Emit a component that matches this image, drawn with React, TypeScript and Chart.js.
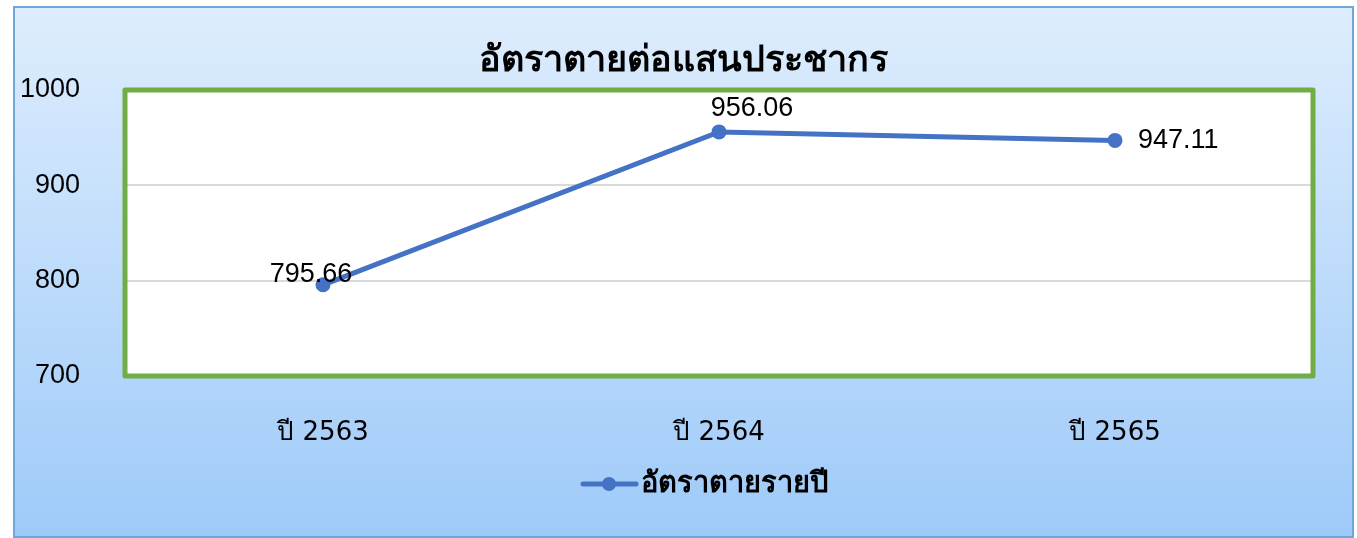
import React, { useEffect, useRef } from "react";
import { Chart, registerables } from "chart.js";

Chart.register(...registerables);

const categories = ["ปี 2563", "ปี 2564", "ปี 2565"];
const rates = [795.66, 956.06, 947.11];
const seriesName = "อัตราตายรายปี";
const chartTitle = "อัตราตายต่อแสนประชากร";
const yMin = 700;
const yMax = 1000;
const yStep = 100;

const W = 1357;
const H = 538;
const FONT = "'DejaVu Sans', 'Noto Sans', sans-serif";
const NUMFONT = "'Liberation Sans', Arial, sans-serif";
const BLUE = "#4472c4";
const GREEN = "#70ad47";

// label offsets (dx, dy) relative to each point, mimicking the original label placement
const labelOffsets = [
  [-12, -10, "center"],
  [33, -23, "center"],
  [23, 0, "left"],
];

const framePlugin = {
  id: "frame",
  beforeDraw(chart: any) {
    const { ctx, chartArea } = chart;
    ctx.save();
    const g = ctx.createLinearGradient(0, 6, 0, 537);
    g.addColorStop(0, "#deedfd");
    g.addColorStop(1, "#9ecaf9");
    ctx.fillStyle = g;
    ctx.fillRect(13, 6, 1340, 531);
    ctx.strokeStyle = "#6fa6dc";
    ctx.lineWidth = 2;
    ctx.strokeRect(14, 7, 1339, 530);
    ctx.fillStyle = "#ffffff";
    ctx.fillRect(chartArea.left, chartArea.top, chartArea.right - chartArea.left, chartArea.bottom - chartArea.top);
    // title
    ctx.fillStyle = "#000000";
    ctx.font = `bold 36px ${FONT}`;
    ctx.textAlign = "center";
    ctx.textBaseline = "middle";
    ctx.fillText(chartTitle, 683, 62);
    // legend
    const ly = 484;
    ctx.strokeStyle = BLUE;
    ctx.lineWidth = 5;
    ctx.lineCap = "round";
    ctx.beginPath();
    ctx.moveTo(583, ly);
    ctx.lineTo(636, ly);
    ctx.stroke();
    ctx.fillStyle = BLUE;
    ctx.beginPath();
    ctx.arc(609, ly, 7, 0, Math.PI * 2);
    ctx.fill();
    ctx.fillStyle = "#000000";
    ctx.font = `bold 29px ${FONT}`;
    ctx.textAlign = "left";
    ctx.fillText(seriesName, 641, ly);
    ctx.restore();
  },
  beforeDatasetsDraw(chart: any) {
    const { ctx, chartArea } = chart;
    ctx.save();
    ctx.strokeStyle = GREEN;
    ctx.lineWidth = 5;
    ctx.lineJoin = "round";
    ctx.strokeRect(chartArea.left, chartArea.top, chartArea.right - chartArea.left, chartArea.bottom - chartArea.top);
    ctx.restore();
  },
  afterDatasetsDraw(chart: any) {
    const { ctx } = chart;
    const meta = chart.getDatasetMeta(0);
    ctx.save();
    ctx.fillStyle = "#000000";
    ctx.font = `27px ${NUMFONT}`;
    ctx.textBaseline = "middle";
    meta.data.forEach((pt: any, i: number) => {
      const [dx, dy, align] = labelOffsets[i] as [number, number, CanvasTextAlign];
      ctx.textAlign = align;
      ctx.fillText(rates[i].toFixed(2), pt.x + dx, pt.y + dy);
    });
    ctx.restore();
  },
};

export default function App() {
  const ref = useRef<HTMLCanvasElement | null>(null);
  useEffect(() => {
    document.body.style.margin = "0";
    const chart = new Chart(ref.current as HTMLCanvasElement, {
      type: "line",
      data: {
        labels: categories,
        datasets: [
          {
            label: seriesName,
            data: rates,
            borderColor: BLUE,
            backgroundColor: BLUE,
            borderWidth: 5,
            pointRadius: 7.5,
            pointBorderWidth: 0,
            pointBackgroundColor: BLUE,
            tension: 0,
          },
        ],
      },
      options: {
        animation: false,
        responsive: false,
        layout: { padding: { left: 0, top: 90, right: W - 1313, bottom: 0 } },
        plugins: {
          legend: { display: false },
          title: { display: false },
          tooltip: { enabled: false },
        },
        scales: {
          x: {
            offset: true,
            grid: { display: false, drawTicks: false },
            border: { display: false },
            ticks: { color: "#000", font: { family: FONT, size: 26 }, padding: 42 },
            afterFit: (s: any) => {
              s.height = H - 376;
            },
          },
          y: {
            min: yMin,
            max: yMax,
            ticks: {
              stepSize: yStep,
              color: "#000",
              font: { family: NUMFONT, size: 27 },
              padding: 45,
              callback: (v: any) => String(v),
            },
            grid: { color: "#d9d9d9", lineWidth: 2, drawTicks: false },
            border: { display: false },
            afterFit: (s: any) => {
              s.width = 125;
            },
          },
        },
      },
      plugins: [framePlugin],
    });
    return () => chart.destroy();
  }, []);
  return (
    <div style={{ position: "absolute", left: 0, top: 0, width: W, height: H }}>
      <canvas ref={ref} width={W} height={H} style={{ width: W, height: H, display: "block" }} />
    </div>
  );
}
